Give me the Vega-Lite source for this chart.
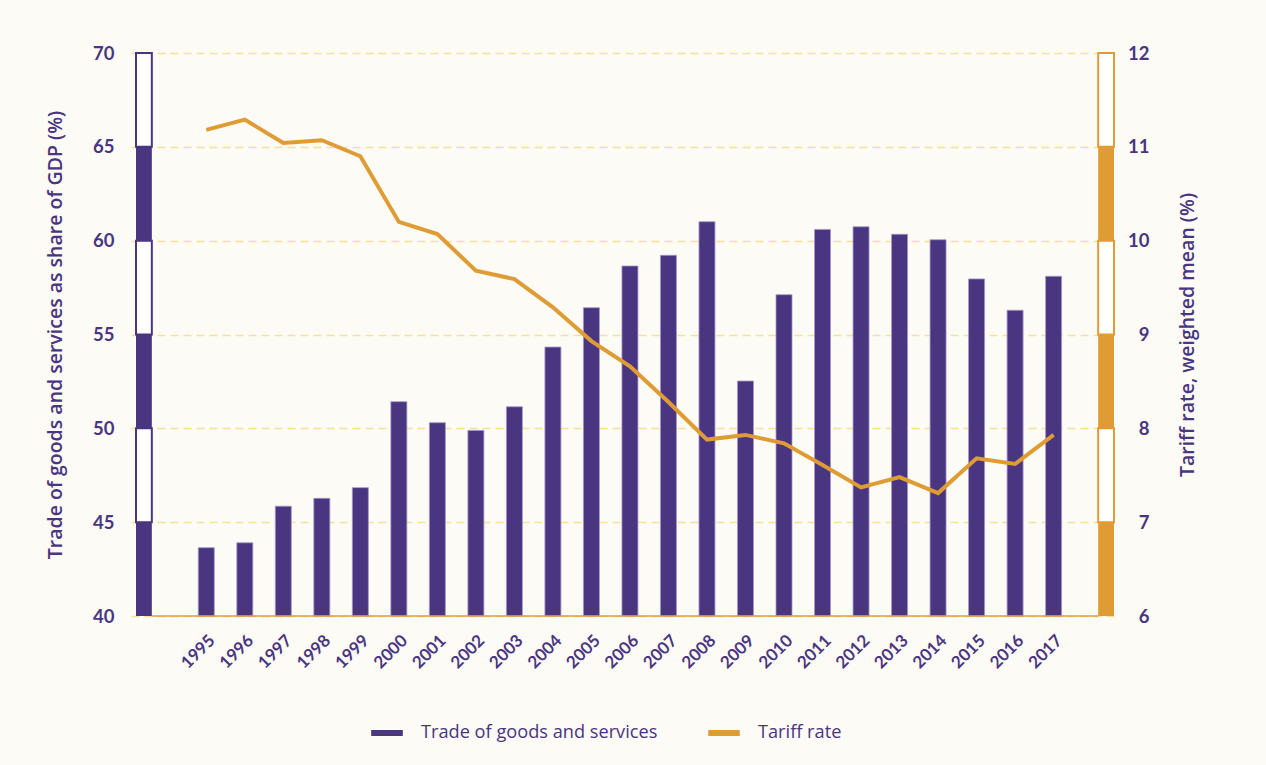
{
  "$schema": "https://vega.github.io/schema/vega-lite/v6.json",
  "width": 988,
  "height": 563,
  "autosize": {"type": "none"},
  "padding": {"left": 131, "top": 53, "right": 147, "bottom": 149},
  "background": "#fcfbf5",
  "config": {
    "view": {"stroke": null},
    "font": "Open Sans",
    "axis": {"labelColor": "#4a3580", "titleColor": "#4a3580", "labelFont": "Lato", "titleFont": "Open Sans"},
    "legend": {"labelFont": "Open Sans"}
  },
  "datasets": {
    "series": [
      {"year": 1995, "trade": 43.64, "tariff": 11.18},
      {"year": 1996, "trade": 43.90, "tariff": 11.29},
      {"year": 1997, "trade": 45.85, "tariff": 11.04},
      {"year": 1998, "trade": 46.27, "tariff": 11.07},
      {"year": 1999, "trade": 46.84, "tariff": 10.90},
      {"year": 2000, "trade": 51.42, "tariff": 10.20},
      {"year": 2001, "trade": 50.30, "tariff": 10.07},
      {"year": 2002, "trade": 49.89, "tariff": 9.68},
      {"year": 2003, "trade": 51.15, "tariff": 9.59},
      {"year": 2004, "trade": 54.33, "tariff": 9.29},
      {"year": 2005, "trade": 56.43, "tariff": 8.93},
      {"year": 2006, "trade": 58.65, "tariff": 8.66},
      {"year": 2007, "trade": 59.22, "tariff": 8.28},
      {"year": 2008, "trade": 61.01, "tariff": 7.88},
      {"year": 2009, "trade": 52.52, "tariff": 7.93},
      {"year": 2010, "trade": 57.12, "tariff": 7.84},
      {"year": 2011, "trade": 60.60, "tariff": 7.61},
      {"year": 2012, "trade": 60.74, "tariff": 7.37},
      {"year": 2013, "trade": 60.34, "tariff": 7.48},
      {"year": 2014, "trade": 60.05, "tariff": 7.31},
      {"year": 2015, "trade": 57.96, "tariff": 7.68},
      {"year": 2016, "trade": 56.29, "tariff": 7.62},
      {"year": 2017, "trade": 58.10, "tariff": 7.93}
    ],
    "leftBands": [
      {"lo": 40, "hi": 45, "kind": "filled"},
      {"lo": 45, "hi": 50, "kind": "open"},
      {"lo": 50, "hi": 55, "kind": "filled"},
      {"lo": 55, "hi": 60, "kind": "open"},
      {"lo": 60, "hi": 65, "kind": "filled"},
      {"lo": 65, "hi": 70, "kind": "open"}
    ],
    "rightBands": [
      {"lo": 6, "hi": 7, "kind": "filled"},
      {"lo": 7, "hi": 8, "kind": "open"},
      {"lo": 8, "hi": 9, "kind": "filled"},
      {"lo": 9, "hi": 10, "kind": "open"},
      {"lo": 10, "hi": 11, "kind": "filled"},
      {"lo": 11, "hi": 12, "kind": "open"}
    ]
  },
  "layer": [
    {
      "layer": [
        {
          "data": {"name": "series"},
          "mark": {"type": "bar", "size": 16, "stroke": "#a497c8", "strokeWidth": 0.8},
          "encoding": {
            "x": {
              "field": "year", "type": "quantitative",
              "scale": {"domain": [1993.175, 2018.568], "nice": false, "zero": false},
              "axis": {
                "values": [1995,1996,1997,1998,1999,2000,2001,2002,2003,2004,2005,2006,2007,2008,2009,2010,2011,2012,2013,2014,2015,2016,2017],
                "format": "d", "labelAngle": -45, "labelOverlap": false, "grid": false, "ticks": false, "domain": false,
                "labelFontSize": 17, "labelFontWeight": "bold", "labelPadding": 16, "title": null
              }
            },
            "y": {
              "field": "trade", "type": "quantitative",
              "scale": {"domain": [40, 70], "nice": false, "zero": false},
              "axis": {
                "values": [40,45,50,55,60,65,70],
                "title": "Trade of goods and services as share of GDP (%)",
                "grid": true, "gridDash": [8,5], "gridColor": "#f6e09a", "gridWidth": 1.5,
                "ticks": false, "domain": false, "labelPadding": 17,
                "labelFontSize": 18.5, "labelFontWeight": "bold",
                "titleFontSize": 19.5, "titleFontWeight": 600, "titlePadding": 27
              }
            },
            "y2": {"datum": 40},
            "color": {
              "datum": "Trade of goods and services",
              "scale": {"domain": ["Trade of goods and services", "Tariff rate"], "range": ["#4a3580", "#e09c34"]},
              "legend": {
                "orient": "none", "legendX": 237, "legendY": 661, "direction": "horizontal", "title": null,
                "symbolType": "stroke", "symbolStrokeWidth": 6, "symbolSize": 1000,
                "labelFontSize": 18.2, "labelColor": "#4a3580", "columnPadding": 38, "labelOffset": 15, "labelLimit": 500
              }
            }
          }
        },
        {
          "data": {"name": "leftBands"},
          "transform": [{"filter": "datum.kind === 'filled'"}],
          "mark": {"type": "rect", "fill": "#4a3580"},
          "encoding": {
            "x": {"datum": 1993.175, "type": "quantitative"},
            "x2": {"datum": 1993.586},
            "y": {"field": "lo", "type": "quantitative", "scale": {"domain": [40, 70], "nice": false, "zero": false}},
            "y2": {"field": "hi"}
          }
        },
        {
          "data": {"name": "leftBands"},
          "transform": [{"filter": "datum.kind === 'open'"}],
          "mark": {"type": "rect", "fill": "#ffffff", "stroke": "#4a3580", "strokeWidth": 2},
          "encoding": {
            "x": {"datum": 1993.175, "type": "quantitative"},
            "x2": {"datum": 1993.586},
            "y": {"field": "lo", "type": "quantitative", "scale": {"domain": [40, 70], "nice": false, "zero": false}},
            "y2": {"field": "hi"}
          }
        },
        {
          "data": {"values": [{}]},
          "mark": {"type": "rule", "stroke": "#e09c34", "strokeWidth": 1.5},
          "encoding": {
            "x": {"datum": 1993.586, "type": "quantitative"},
            "x2": {"datum": 2018.157},
            "y": {"datum": 40, "type": "quantitative"}
          }
        }
      ]
    },
    {
      "layer": [
        {
          "data": {"name": "rightBands"},
          "transform": [{"filter": "datum.kind === 'filled'"}],
          "mark": {"type": "rect", "fill": "#e09c34"},
          "encoding": {
            "x": {"datum": 2018.157, "type": "quantitative"},
            "x2": {"datum": 2018.568},
            "y": {
              "field": "lo", "type": "quantitative",
              "scale": {"domain": [6, 12], "nice": false, "zero": false},
              "axis": {
                "orient": "right", "values": [6,7,8,9,10,11,12], "format": "d",
                "title": "Tariff rate, weighted mean (%)", "titleAngle": 270,
                "grid": false, "ticks": false, "domain": false,
                "labelAlign": "right", "labelPadding": 30,
                "labelFontSize": 18.5, "labelFontWeight": "bold",
                "titleFontSize": 19.5, "titleFontWeight": 600, "titlePadding": 48
              }
            },
            "y2": {"field": "hi"}
          }
        },
        {
          "data": {"name": "rightBands"},
          "transform": [{"filter": "datum.kind === 'open'"}],
          "mark": {"type": "rect", "fill": "#ffffff", "stroke": "#e09c34", "strokeWidth": 2},
          "encoding": {
            "x": {"datum": 2018.157, "type": "quantitative"},
            "x2": {"datum": 2018.568},
            "y": {"field": "lo", "type": "quantitative", "scale": {"domain": [6, 12], "nice": false, "zero": false}},
            "y2": {"field": "hi"}
          }
        },
        {
          "data": {"name": "series"},
          "mark": {"type": "line", "strokeWidth": 4},
          "encoding": {
            "x": {"field": "year", "type": "quantitative"},
            "y": {"field": "tariff", "type": "quantitative", "scale": {"domain": [6, 12], "nice": false, "zero": false}},
            "color": {"datum": "Tariff rate"}
          }
        }
      ]
    }
  ],
  "resolve": {"scale": {"y": "independent"}}
}
